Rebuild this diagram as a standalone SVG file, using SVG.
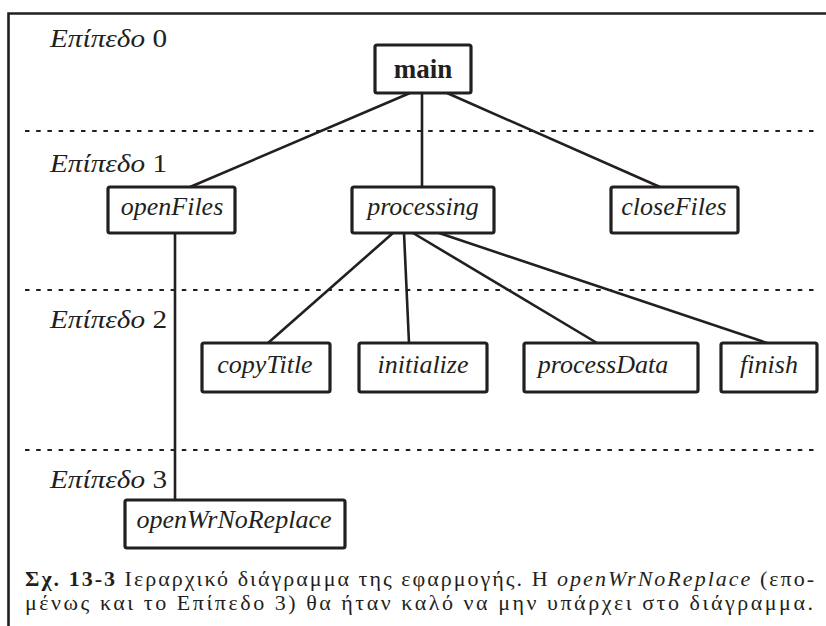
<svg xmlns="http://www.w3.org/2000/svg" width="826" height="626" viewBox="0 0 826 626">
<style>
.frame{stroke:#231f20;stroke-width:2.6;fill:none}
.level{stroke:#231f20;stroke-width:2;stroke-dasharray:4.5 6.7;fill:none}
.box{fill:#fff;stroke:#231f20;stroke-width:3.2}
.edge{stroke:#231f20;stroke-width:2.6;fill:none}
.lbl{font-size:26px;fill:#231f20}
.it{font-style:italic}
.node{font-size:26px;font-style:italic;fill:#231f20;text-anchor:middle}
.bold{font-weight:bold;font-style:normal;font-size:27px}
.cap{font-size:22px;fill:#231f20}
</style>
<rect width="826" height="626" fill="#fff"/>
<g id="frame">
<path class="frame" d="M8.5,626 V13.5 H826"/>
</g>
<g font-family="Liberation Serif, DejaVu Serif, serif">
<g id="levels">
<line class="level" x1="25" y1="131" x2="818" y2="131"/>
<line class="level" x1="25" y1="290" x2="818" y2="290"/>
<line class="level" x1="25" y1="450" x2="818" y2="450"/>
<text class="lbl" x="50" y="47" textLength="117" lengthAdjust="spacingAndGlyphs"><tspan class="it">Επίπεδο</tspan> 0</text>
<text class="lbl" x="50" y="172" textLength="117" lengthAdjust="spacingAndGlyphs"><tspan class="it">Επίπεδο</tspan> 1</text>
<text class="lbl" x="50" y="328" textLength="117" lengthAdjust="spacingAndGlyphs"><tspan class="it">Επίπεδο</tspan> 2</text>
<text class="lbl" x="50" y="488" textLength="117" lengthAdjust="spacingAndGlyphs"><tspan class="it">Επίπεδο</tspan> 3</text>
</g>
<g id="connectors">
<line class="edge" x1="410" y1="93" x2="190" y2="187"/>
<line class="edge" x1="422" y1="93" x2="422" y2="187"/>
<line class="edge" x1="447" y1="93" x2="660" y2="187"/>
<line class="edge" x1="175" y1="233" x2="175" y2="500"/>
<line class="edge" x1="393" y1="233" x2="268" y2="343"/>
<line class="edge" x1="404" y1="233" x2="409" y2="343"/>
<line class="edge" x1="413" y1="233" x2="597" y2="343"/>
<line class="edge" x1="439" y1="233" x2="767" y2="343"/>
</g>
<g id="main">
<rect class="box" x="375" y="45" width="96" height="48" rx="2"/>
<text class="node bold" x="423" y="78">main</text>
</g>
<g id="openFiles">
<rect class="box" x="108" y="187" width="127" height="46" rx="2"/>
<text class="node" x="172" y="215">openFiles</text>
</g>
<g id="processing">
<rect class="box" x="352" y="187" width="142" height="46" rx="2"/>
<text class="node" x="423" y="215">processing</text>
</g>
<g id="closeFiles">
<rect class="box" x="611" y="187" width="127" height="46" rx="2"/>
<text class="node" x="674" y="215">closeFiles</text>
</g>
<g id="copyTitle">
<rect class="box" x="202" y="343" width="128" height="49" rx="2"/>
<text class="node" x="265" y="373">copyTitle</text>
</g>
<g id="initialize">
<rect class="box" x="359" y="343" width="128" height="49" rx="2"/>
<text class="node" x="423" y="373">initialize</text>
</g>
<g id="processData">
<rect class="box" x="524" y="343" width="174" height="49" rx="2"/>
<text class="node" x="603" y="373">processData</text>
</g>
<g id="finish">
<rect class="box" x="721" y="343" width="96" height="49" rx="2"/>
<text class="node" x="769" y="373">finish</text>
</g>
<g id="openWrNoReplace">
<rect class="box" x="125" y="500" width="220" height="48" rx="2"/>
<text class="node" x="234" y="528">openWrNoReplace</text>
</g>
<g id="caption">
<text class="cap" x="25" y="586" textLength="789" lengthAdjust="spacing"><tspan font-weight="bold">Σχ. 13-3</tspan> Ιεραρχικό διάγραμμα της εφαρμογής. Η <tspan font-style="italic">openWrNoReplace</tspan> (επο-</text>
<text class="cap" x="25" y="610" textLength="788" lengthAdjust="spacing">μένως και το Επίπεδο 3) θα ήταν καλό να μην υπάρχει στο διάγραμμα.</text>
</g>
</g>
</svg>
